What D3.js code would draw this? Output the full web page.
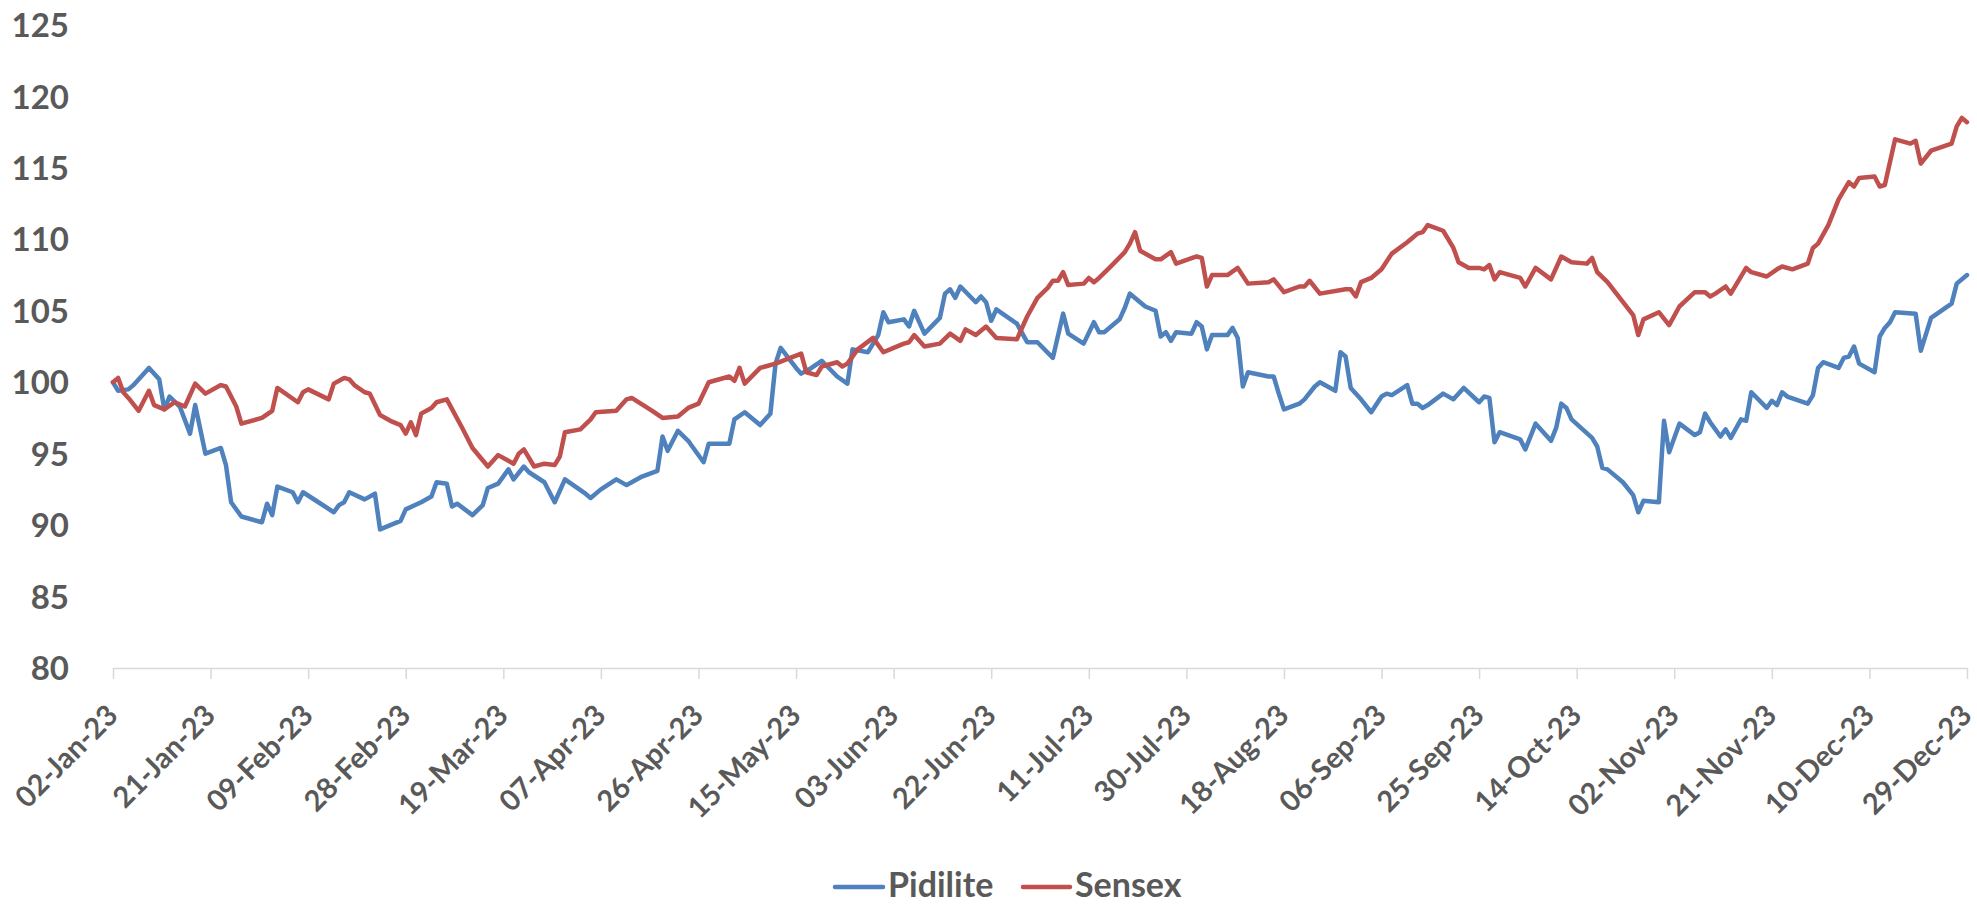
<!DOCTYPE html>
<html>
<head>
<meta charset="utf-8">
<script src="https://cdn.jsdelivr.net/npm/d3@7/dist/d3.min.js"></script>
<style>
  html, body { margin: 0; padding: 0; background: #ffffff; }
  svg { display: block; }
  text { font-family: Lato, "Open Sans", sans-serif; font-weight: 700; fill: #595959; }
</style>
</head>
<body>
<svg id="chart" width="1977" height="907"></svg>
<script>
// ---- Data ----
const startDate = "2023-01-02";             // day 0 of the series
const seriesNames = ["Pidilite", "Sensex"];
const xTickLabels = ["02-Jan-23","21-Jan-23","09-Feb-23","28-Feb-23","19-Mar-23","07-Apr-23",
  "26-Apr-23","15-May-23","03-Jun-23","22-Jun-23","11-Jul-23","30-Jul-23","18-Aug-23",
  "06-Sep-23","25-Sep-23","14-Oct-23","02-Nov-23","21-Nov-23","10-Dec-23","29-Dec-23"];
const yTicks = [80, 85, 90, 95, 100, 105, 110, 115, 120, 125];

// Pidilite: days since start date, indexed value
const pidiliteDays = [0,1,3,4,7,9,10,11,13,15,16,18,21,22,23,25,29,30,31,32,35,36,37,40,43,44,45,46,49,51,52,54,56,57,60,62,63,65,66,67,70,72,73,75,77,78,80,81,84,86,88,92,93,95,98,100,101,103,106,107,108,110,112,113,115,116,120,121,123,126,128,129,130,133,134,136,138,141,143,144,147,149,150,151,154,155,156,158,161,162,163,164,165,168,169,170,171,172,176,178,180,183,185,186,189,191,192,193,196,197,198,199,201,203,204,205,206,207,210,211,212,213,214,217,218,219,220,221,225,226,227,228,231,232,234,235,238,239,240,241,243,245,247,248,249,252,253,254,255,256,259,261,263,266,267,268,269,270,274,275,277,280,281,282,283,284,288,289,290,291,294,296,297,298,301,302,303,305,308,309,310,311,313,314,315,317,318,319,322,323,324,325,326,330,331,332,333,336,337,338,339,340,343,344,345,346,347,351,352,354,358,359,361];
const pidiliteValues = [100.0,99.4,99.5,99.8,101.0,100.2,98.1,99.0,98.3,96.4,98.4,95.0,95.4,94.2,91.6,90.6,90.2,91.5,90.7,92.7,92.3,91.6,92.3,91.6,90.9,91.4,91.6,92.3,91.8,92.2,89.7,90.0,90.3,91.1,91.6,92.0,93.0,92.9,91.3,91.5,90.7,91.4,92.6,92.9,93.9,93.2,94.1,93.7,93.0,91.6,93.2,92.2,91.9,92.5,93.2,92.8,93.0,93.4,93.8,96.2,95.2,96.6,95.9,95.4,94.4,95.7,95.7,97.4,97.9,97.0,97.8,101.3,102.4,101.0,100.6,101.0,101.5,100.4,99.9,102.3,102.1,103.3,104.9,104.2,104.4,103.9,105.0,103.4,104.5,106.2,106.5,105.9,106.7,105.6,106.0,105.6,104.3,105.1,104.1,102.8,102.8,101.7,104.8,103.4,102.7,104.2,103.5,103.5,104.4,105.2,106.2,105.9,105.3,105.0,103.2,103.5,102.9,103.5,103.4,104.2,103.9,102.3,103.3,103.3,103.8,103.1,99.7,100.7,100.4,100.4,99.2,98.1,98.5,98.8,99.7,100.0,99.4,102.1,101.8,99.6,98.8,97.9,99.0,99.2,99.1,99.8,98.5,98.5,98.2,98.4,99.2,98.8,99.6,98.6,99.0,98.9,95.8,96.5,96.0,95.3,97.1,95.9,96.8,98.5,98.2,97.4,96.1,95.5,94.0,93.9,93.0,92.1,90.9,91.7,91.6,97.3,95.1,97.1,96.3,96.5,97.8,97.2,96.2,96.7,96.1,97.4,97.3,99.3,98.2,98.7,98.4,99.3,99.0,98.5,99.1,101.0,101.4,101.0,101.7,101.8,102.5,101.3,100.7,103.2,103.8,104.2,104.9,104.8,102.2,104.5,105.5,106.9,107.5];

// Sensex: days since start date, indexed value
const sensexDays = [0,1,2,3,5,7,8,10,12,14,16,18,21,22,24,25,29,31,32,36,37,38,42,43,45,46,47,49,50,52,54,56,57,58,59,60,62,63,65,68,70,73,75,78,79,80,82,84,86,87,88,91,93,94,98,100,101,105,107,110,112,114,116,120,121,122,123,126,127,129,134,135,137,138,141,142,143,145,148,150,152,154,155,156,158,161,163,165,166,168,170,172,176,178,180,182,183,184,185,186,189,190,191,192,194,197,198,199,200,203,204,206,207,211,212,213,214,217,219,221,225,226,228,231,232,233,235,240,241,242,243,245,247,249,252,253,254,255,256,259,261,262,264,266,267,268,269,270,274,275,277,280,282,284,287,288,289,291,296,297,298,301,303,305,308,310,311,312,314,315,318,319,322,324,325,327,330,331,332,334,336,338,339,340,343,344,345,347,350,351,352,354,358,359,360,361];
const sensexValues = [100.0,100.3,99.3,98.9,98.0,99.4,98.4,98.1,98.6,98.3,99.9,99.2,99.8,99.7,98.3,97.1,97.5,98.0,99.6,98.6,99.3,99.5,98.8,99.9,100.3,100.2,99.8,99.3,99.2,97.7,97.3,97.0,96.4,97.2,96.3,97.8,98.2,98.6,98.8,96.8,95.4,94.1,94.9,94.3,95.0,95.3,94.1,94.3,94.2,94.8,96.5,96.7,97.4,97.9,98.0,98.8,98.9,98.0,97.5,97.6,98.2,98.5,100.0,100.4,100.1,101.0,99.9,101.0,101.1,101.3,102.0,100.7,100.5,101.1,101.4,101.1,101.3,102.3,103.1,102.1,102.4,102.7,102.8,103.3,102.5,102.7,103.4,102.9,103.7,103.3,103.9,103.1,103.0,104.6,105.9,106.6,107.1,107.1,107.7,106.8,106.9,107.3,107.0,107.3,108.0,109.1,109.7,110.5,109.2,108.6,108.6,109.1,108.3,108.8,108.7,106.7,107.5,107.5,108.0,106.9,107.0,107.2,106.3,106.7,106.7,107.1,106.2,106.5,106.5,106.0,107.0,107.3,107.9,109.0,109.8,110.1,110.4,110.5,111.0,110.6,109.4,108.4,108.0,108.0,107.9,108.2,107.2,107.7,107.3,106.7,108.0,107.2,108.8,108.4,108.3,108.7,107.7,107.0,104.7,103.3,104.4,104.9,104.0,105.3,106.3,106.3,106.0,106.2,106.7,106.2,108.0,107.7,107.4,107.9,108.1,107.9,108.3,109.4,109.7,111.0,112.8,114.0,113.7,114.3,114.4,113.7,113.8,117.0,116.7,116.9,115.3,116.2,116.7,117.9,118.5,118.2];

const seriesColors = ["#4F81BD", "#C0504D"];

// ---- Build ----
const svg = d3.select("#chart");
const parseISO = d3.timeParse("%Y-%m-%d");
const parseTick = d3.timeParse("%d-%b-%y");
const start = parseISO(startDate);
const tickDates = xTickLabels.map(parseTick);

const x = d3.scaleTime()
  .domain([tickDates[0], tickDates[tickDates.length - 1]])
  .range([113, 1967]);
const y = d3.scaleLinear().domain([80, 125]).range([668, 25]);

const series = [
  { name: seriesNames[0], color: seriesColors[0],
    points: pidiliteDays.map((d, i) => ({ date: d3.timeDay.offset(start, d), value: pidiliteValues[i] })) },
  { name: seriesNames[1], color: seriesColors[1],
    points: sensexDays.map((d, i) => ({ date: d3.timeDay.offset(start, d), value: sensexValues[i] })) }
];

// X axis
const xAxis = svg.append("g")
  .attr("transform", "translate(0,668)")
  .call(d3.axisBottom(x).tickValues(tickDates).tickSize(11).tickSizeOuter(0)
    .tickFormat(d3.timeFormat("%d-%b-%y")));
xAxis.select(".domain").attr("stroke", "#d9d9d9").attr("stroke-width", 1.5);
xAxis.selectAll(".tick line").attr("stroke", "#d9d9d9").attr("stroke-width", 1.5);
xAxis.selectAll(".tick text")
  .attr("font-size", 29)
  .attr("text-anchor", "end")
  .attr("x", 0).attr("y", 0).attr("dy", "0.35em")
  .attr("transform", "translate(-1,42) rotate(-45)");

// Y axis labels
const yAxis = svg.append("g")
  .attr("transform", "translate(113,0)")
  .call(d3.axisLeft(y).tickValues(yTicks).tickSize(0).tickPadding(44));
yAxis.select(".domain").remove();
yAxis.selectAll(".tick text").attr("font-size", 33).attr("dy", "0.35em");

// Lines
const line = d3.line().x(d => x(d.date)).y(d => y(d.value));
svg.append("g").selectAll("path.series")
  .data(series)
  .join("path")
  .attr("class", "series")
  .attr("fill", "none")
  .attr("stroke", d => d.color)
  .attr("stroke-width", 4.5)
  .attr("stroke-linejoin", "round")
  .attr("stroke-linecap", "round")
  .attr("d", d => line(d.points));

// Legend
const legendItems = [
  { name: seriesNames[0], color: seriesColors[0], x0: 835, x1: 883, tx: 888 },
  { name: seriesNames[1], color: seriesColors[1], x0: 1023, x1: 1070, tx: 1075 }
];
const lg = svg.append("g");
legendItems.forEach(it => {
  lg.append("line").attr("x1", it.x0).attr("x2", it.x1).attr("y1", 887).attr("y2", 887)
    .attr("stroke", it.color).attr("stroke-width", 4.5).attr("stroke-linecap", "round");
  lg.append("text").attr("x", it.tx).attr("y", 897).attr("font-size", 34).text(it.name);
});
</script>
</body>
</html>
